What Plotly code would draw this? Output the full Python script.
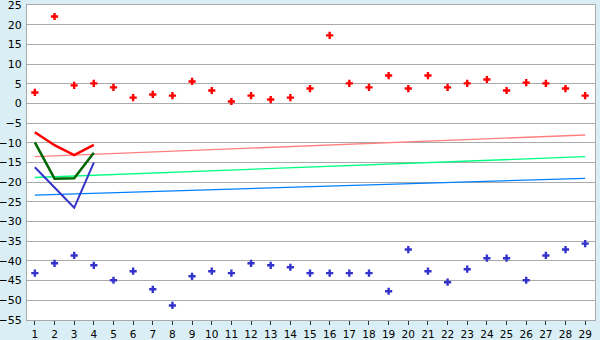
import plotly.graph_objects as go

x = list(range(1, 30))
red_pts = [2.8, 22.1, 4.6, 5.1, 4.1, 1.5, 2.3, 2.0, 5.6, 3.3, 0.5, 2.0, 1.0, 1.5, 3.8,
           17.3, 5.1, 4.1, 7.1, 3.8, 7.1, 4.1, 5.1, 6.1, 3.3, 5.3, 5.1, 3.8, 2.0]
blue_pts = [-43.1, -40.6, -38.6, -41.1, -44.9, -42.6, -47.2, -51.3, -43.9, -42.6, -43.1,
            -40.6, -41.1, -41.6, -43.1, -43.1, -43.1, -43.1, -47.7, -37.1, -42.6, -45.4,
            -42.1, -39.3, -39.3, -44.9, -38.6, -37.1, -35.6]
short_x = [1, 2, 3, 4]
red_line = [-7.3, -10.6, -13.1, -10.5]
green_line = [-9.9, -19.1, -19.0, -12.5]
blue_line = [-16.2, -21.4, -26.5, -15.0]
trend_x = [1, 29]
trend_red = [-13.5, -8.0]
trend_green = [-18.8, -13.5]
trend_blue = [-23.3, -19.0]

fig = go.Figure()
fig.add_trace(go.Scatter(x=trend_x, y=trend_red, mode="lines", line=dict(color="#ff8080", width=1.3)))
fig.add_trace(go.Scatter(x=trend_x, y=trend_green, mode="lines", line=dict(color="#00ff80", width=1.3)))
fig.add_trace(go.Scatter(x=trend_x, y=trend_blue, mode="lines", line=dict(color="#0080ff", width=1.3)))
fig.add_trace(go.Scatter(x=short_x, y=red_line, mode="lines", line=dict(color="#ff0000", width=2.5)))
fig.add_trace(go.Scatter(x=short_x, y=green_line, mode="lines", line=dict(color="#006600", width=2.5)))
fig.add_trace(go.Scatter(x=short_x, y=blue_line, mode="lines", line=dict(color="#3333cc", width=2)))
fig.add_trace(go.Scatter(x=x, y=red_pts, mode="markers",
                         marker=dict(symbol="cross", size=6, color="#ff0000", line=dict(width=0))))
fig.add_trace(go.Scatter(x=x, y=blue_pts, mode="markers",
                         marker=dict(symbol="cross", size=6, color="#3333cc", line=dict(width=0))))

fig.update_layout(
    width=600, height=340,
    margin=dict(l=27, r=5, t=5, b=20, autoexpand=False),
    paper_bgcolor="#d9eff5",
    plot_bgcolor="#ffffff",
    showlegend=False,
    font=dict(family="DejaVu Sans", size=11, color="#000000"),
    xaxis=dict(range=[0.6, 29.5], tickmode="array", tickvals=x, showgrid=False,
               ticks="outside", ticklen=4, tickcolor="#333333", showline=True,
               linecolor="#aaaaaa", mirror=True, zeroline=False, automargin=False,
               ticklabelstandoff=0, tickfont=dict(size=10.5)),
    yaxis=dict(range=[-55, 25.02], tickmode="array", tickvals=list(range(-55, 26, 5)),
               showgrid=True, gridcolor="#aaaaaa", gridwidth=1,
               showline=True, linecolor="#aaaaaa", mirror=True, zeroline=False,
               ticks="", ticklabelstandoff=2, automargin=False,
               ticklabeloverflow="allow"),
)
fig.write_html("out.html")
